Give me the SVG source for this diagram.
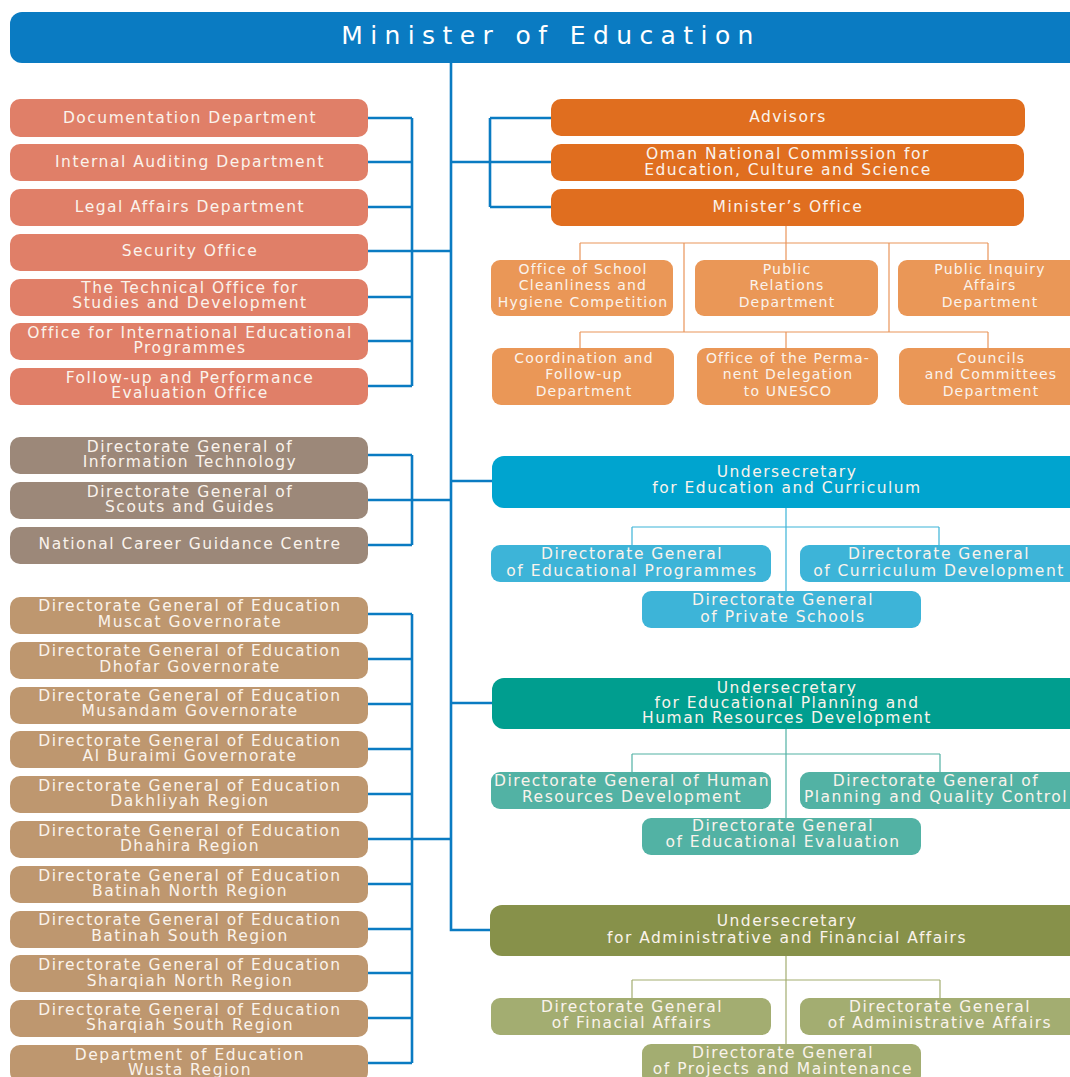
<svg xmlns="http://www.w3.org/2000/svg" width="1070" height="1077" viewBox="0 0 1070 1077">
<style>
text{font-family:"DejaVu Sans","Liberation Sans",sans-serif;font-size:15.5px;fill:#FAF3EC;text-anchor:middle;letter-spacing:1.5px}
text.sm{font-size:14px;letter-spacing:1.2px}
.title{font-size:25px;letter-spacing:7.4px;fill:#fff}
.main{fill:none;stroke:#0A7BC2;stroke-width:2.6}
.so{fill:none;stroke:#E9955A;stroke-width:1.2}
.sc{fill:none;stroke:#3DB4D7;stroke-width:1.2}
.st{fill:none;stroke:#52B1A4;stroke-width:1.2}
.sl{fill:none;stroke:#A3AD71;stroke-width:1.2}
.salmon{fill:#E07F68}.grey{fill:#9C8879}.tan{fill:#BE976F}
.orange{fill:#E06E1F}.lorange{fill:#EA9757}
.cyan{fill:#00A4CF}.lcyan{fill:#3DB4D8}
.teal{fill:#009E8F}.lteal{fill:#52B2A4}
.olive{fill:#87914A}.lolive{fill:#A3AD71}
</style>
<rect width="1070" height="1077" fill="#fff"/>
<g id="connectors">
<path class="main" d="M451 63V930H492"/>
<path class="main" d="M368 118H412M368 162H412M368 207H412M368 251H451M368 297H412M368 341H412M368 386H412M412 118V386"/>
<path class="main" d="M368 455H412M368 500H451M368 545H412M412 455V545"/>
<path class="main" d="M368 614H412M368 659H412M368 704H412M368 749H412M368 794H412M368 839H451M368 884H412M368 929H412M368 973H412M368 1018H412M368 1063H412M412 614V1063"/>
<path class="main" d="M451 162H490M490 118H551M490 207H551M490 162H551M490 118V207"/>
<path class="main" d="M451 481H492M451 703H492"/>
<path class="so" d="M786 226V260M580 243H988M580 243V260M988 243V260M684 243V332M889 243V332M580 332H988M580 332V348M786 332V348M988 332V348"/>
<path class="sc" d="M786 508V591M632 527H939M632 527V545M939 527V545"/>
<path class="st" d="M786 729V818M632 754H940M632 754V772M940 754V772"/>
<path class="sl" d="M786 956V1044M632 980H940M632 980V998M940 980V998"/>
</g>
<g id="minister"><rect x="10" y="12" width="1080" height="51" rx="12" fill="#0A7BC2"/><text class="title" x="551" y="44">Minister of Education</text></g>

<g id="documentation"><rect class="salmon" x="10" y="99" width="358" height="38" rx="10"/><text x="190" y="123">Documentation Department</text></g>
<g id="auditing"><rect class="salmon" x="10" y="144" width="358" height="37" rx="10"/><text x="190" y="167">Internal Auditing Department</text></g>
<g id="legal"><rect class="salmon" x="10" y="189" width="358" height="37" rx="10"/><text x="190" y="212">Legal Affairs Department</text></g>
<g id="security"><rect class="salmon" x="10" y="234" width="358" height="37" rx="10"/><text x="190" y="256">Security Office</text></g>
<g id="technical"><rect class="salmon" x="10" y="279" width="358" height="37" rx="10"/><text x="190" y="293">The Technical Office for</text><text x="190" y="308">Studies and Development</text></g>
<g id="international"><rect class="salmon" x="10" y="323" width="358" height="37" rx="10"/><text x="190" y="338">Office for International Educational</text><text x="190" y="353">Programmes</text></g>
<g id="followup"><rect class="salmon" x="10" y="368" width="358" height="37" rx="10"/><text x="190" y="383">Follow-up and Performance</text><text x="190" y="398">Evaluation Office</text></g>

<g id="it"><rect class="grey" x="10" y="437" width="358" height="37" rx="10"/><text x="190" y="452">Directorate General of</text><text x="190" y="467">Information Technology</text></g>
<g id="scouts"><rect class="grey" x="10" y="482" width="358" height="37" rx="10"/><text x="190" y="497">Directorate General of</text><text x="190" y="512">Scouts and Guides</text></g>
<g id="career"><rect class="grey" x="10" y="527" width="358" height="37" rx="10"/><text x="190" y="549">National Career Guidance Centre</text></g>

<g id="muscat"><rect class="tan" x="10" y="597" width="358" height="37" rx="10"/><text x="190" y="611">Directorate General of Education</text><text x="190" y="627">Muscat Governorate</text></g>
<g id="dhofar"><rect class="tan" x="10" y="642" width="358" height="37" rx="10"/><text x="190" y="656">Directorate General of Education</text><text x="190" y="672">Dhofar Governorate</text></g>
<g id="musandam"><rect class="tan" x="10" y="687" width="358" height="37" rx="10"/><text x="190" y="701">Directorate General of Education</text><text x="190" y="716">Musandam Governorate</text></g>
<g id="buraimi"><rect class="tan" x="10" y="731" width="358" height="37" rx="10"/><text x="190" y="746">Directorate General of Education</text><text x="190" y="761">Al Buraimi Governorate</text></g>
<g id="dakhliyah"><rect class="tan" x="10" y="776" width="358" height="37" rx="10"/><text x="190" y="791">Directorate General of Education</text><text x="190" y="806">Dakhliyah Region</text></g>
<g id="dhahira"><rect class="tan" x="10" y="821" width="358" height="37" rx="10"/><text x="190" y="836">Directorate General of Education</text><text x="190" y="851">Dhahira Region</text></g>
<g id="batinah-north"><rect class="tan" x="10" y="866" width="358" height="37" rx="10"/><text x="190" y="881">Directorate General of Education</text><text x="190" y="896">Batinah North Region</text></g>
<g id="batinah-south"><rect class="tan" x="10" y="911" width="358" height="37" rx="10"/><text x="190" y="925">Directorate General of Education</text><text x="190" y="941">Batinah South Region</text></g>
<g id="sharqiah-north"><rect class="tan" x="10" y="955" width="358" height="37" rx="10"/><text x="190" y="970">Directorate General of Education</text><text x="190" y="986">Sharqiah North Region</text></g>
<g id="sharqiah-south"><rect class="tan" x="10" y="1000" width="358" height="37" rx="10"/><text x="190" y="1015">Directorate General of Education</text><text x="190" y="1030">Sharqiah South Region</text></g>
<g id="wusta"><rect class="tan" x="10" y="1045" width="358" height="37" rx="10"/><text x="190" y="1060">Department of Education</text><text x="190" y="1075">Wusta Region</text></g>

<g id="advisors"><rect class="orange" x="551" y="99" width="474" height="37" rx="10"/><text x="788" y="122">Advisors</text></g>
<g id="onc"><rect class="orange" x="551" y="144" width="473" height="37" rx="10"/><text x="788" y="159">Oman National Commission for</text><text x="788" y="175">Education, Culture and Science</text></g>
<g id="ministers-office"><rect class="orange" x="551" y="189" width="473" height="37" rx="10"/><text x="788" y="212">Minister’s Office</text></g>

<g id="cleanliness"><rect class="lorange" x="491" y="260" width="182" height="56" rx="9"/><text class="sm" x="583" y="274">Office of School</text><text class="sm" x="583" y="290">Cleanliness and</text><text class="sm" x="583" y="307">Hygiene Competition</text></g>
<g id="public-relations"><rect class="lorange" x="695" y="260" width="183" height="56" rx="9"/><text class="sm" x="787" y="274">Public</text><text class="sm" x="787" y="290">Relations</text><text class="sm" x="787" y="307">Department</text></g>
<g id="public-inquiry"><rect class="lorange" x="898" y="260" width="190" height="56" rx="9"/><text class="sm" x="990" y="274">Public Inquiry</text><text class="sm" x="990" y="290">Affairs</text><text class="sm" x="990" y="307">Department</text></g>
<g id="coordination"><rect class="lorange" x="492" y="348" width="182" height="57" rx="9"/><text class="sm" x="584" y="363">Coordination and</text><text class="sm" x="584" y="379">Follow-up</text><text class="sm" x="584" y="396">Department</text></g>
<g id="unesco"><rect class="lorange" x="697" y="348" width="181" height="57" rx="9"/><text class="sm" x="788" y="363">Office of the Perma-</text><text class="sm" x="788" y="379">nent Delegation</text><text class="sm" x="788" y="396">to UNESCO</text></g>
<g id="councils"><rect class="lorange" x="899" y="348" width="190" height="57" rx="9"/><text class="sm" x="991" y="363">Councils</text><text class="sm" x="991" y="379">and Committees</text><text class="sm" x="991" y="396">Department</text></g>

<g id="us-education"><rect class="cyan" x="492" y="456" width="600" height="52" rx="12"/><text x="787" y="477">Undersecretary</text><text x="787" y="493">for Education and Curriculum</text></g>
<g id="dg-programmes"><rect class="lcyan" x="491" y="545" width="280" height="37" rx="9"/><text x="632" y="559">Directorate General</text><text x="632" y="576">of Educational Programmes</text></g>
<g id="dg-curriculum"><rect class="lcyan" x="800" y="545" width="290" height="37" rx="9"/><text x="939" y="559">Directorate General</text><text x="939" y="576">of Curriculum Development</text></g>
<g id="dg-private"><rect class="lcyan" x="642" y="591" width="279" height="37" rx="9"/><text x="783" y="605">Directorate General</text><text x="783" y="622">of Private Schools</text></g>

<g id="us-planning"><rect class="teal" x="492" y="678" width="600" height="51" rx="12"/><text x="787" y="693">Undersecretary</text><text x="787" y="708">for Educational Planning and</text><text x="787" y="723">Human Resources Development</text></g>
<g id="dg-hr"><rect class="lteal" x="491" y="772" width="280" height="37" rx="9"/><text x="632" y="786">Directorate General of Human</text><text x="632" y="802">Resources Development</text></g>
<g id="dg-planning"><rect class="lteal" x="800" y="772" width="290" height="37" rx="9"/><text x="936" y="786">Directorate General of</text><text x="936" y="802">Planning and Quality Control</text></g>
<g id="dg-evaluation"><rect class="lteal" x="642" y="818" width="279" height="37" rx="9"/><text x="783" y="831">Directorate General</text><text x="783" y="847">of Educational Evaluation</text></g>

<g id="us-admin"><rect class="olive" x="490" y="905" width="600" height="51" rx="12"/><text x="787" y="926">Undersecretary</text><text x="787" y="943">for Administrative and Financial Affairs</text></g>
<g id="dg-financial"><rect class="lolive" x="491" y="998" width="280" height="37" rx="9"/><text x="632" y="1012">Directorate General</text><text x="632" y="1028">of Finacial Affairs</text></g>
<g id="dg-administrative"><rect class="lolive" x="800" y="998" width="290" height="37" rx="9"/><text x="940" y="1012">Directorate General</text><text x="940" y="1028">of Administrative Affairs</text></g>
<g id="dg-projects"><rect class="lolive" x="642" y="1044" width="279" height="40" rx="9"/><text x="783" y="1058">Directorate General</text><text x="783" y="1074">of Projects and Maintenance</text></g>
</svg>
